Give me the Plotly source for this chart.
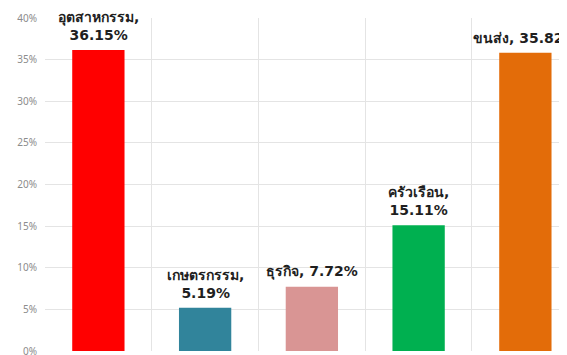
import plotly.graph_objects as go

categories = ["อุตสาหกรรม", "เกษตรกรรม", "ธุรกิจ", "ครัวเรือน", "ขนส่ง"]
values = [36.15, 5.19, 7.72, 15.11, 35.82]
label_texts = ["อุตสาหกรรม,<br>36.15%", "เกษตรกรรม,<br>5.19%", "ธุรกิจ, 7.72%",
               "ครัวเรือน,<br>15.11%", "ขนส่ง, 35.82%"]
colors = ["#FF0000", "#31849B", "#D99594", "#00B050", "#E36C09"]
y_ticks = [0, 5, 10, 15, 20, 25, 30, 35, 40]
y_tick_labels = ["0%", "5%", "10%", "15%", "20%", "25%", "30%", "35%", "40%"]

fig = go.Figure()
fig.add_trace(go.Bar(x=categories, y=values, marker_color=colors, width=0.49,
                     marker_line_width=0, hoverinfo="skip"))

for c, v, t in zip(categories, values, label_texts):
    fig.add_annotation(x=c, y=v, text="<b>" + t + "</b>", showarrow=False,
                       yanchor="bottom", yshift=5,
                       font=dict(family="DejaVu Sans, Noto Sans, sans-serif", size=14, color="#1f1f1f"))

fig.update_layout(
    width=567, height=355,
    margin=dict(l=37, r=0, t=10, b=12, autoexpand=False),
    paper_bgcolor="white", plot_bgcolor="white",
    showlegend=False,
    xaxis=dict(type="category", range=[-0.5, 4.465], showticklabels=False,
               tickson="boundaries", showgrid=True, gridcolor="#e4e4e4", gridwidth=1,
               ticks="", zeroline=False, showline=False, automargin=False),
    yaxis=dict(range=[0, 40], tickvals=y_ticks, ticktext=y_tick_labels,
               showgrid=True, gridcolor="#e4e4e4", gridwidth=1, zeroline=False,
               tickfont=dict(family="Noto Sans, sans-serif", size=10, color="#8c8c8c"),
               ticks="", ticklabelstandoff=7, automargin=False,
               ticklabeloverflow="allow"),
)
fig.write_html("out.html")
